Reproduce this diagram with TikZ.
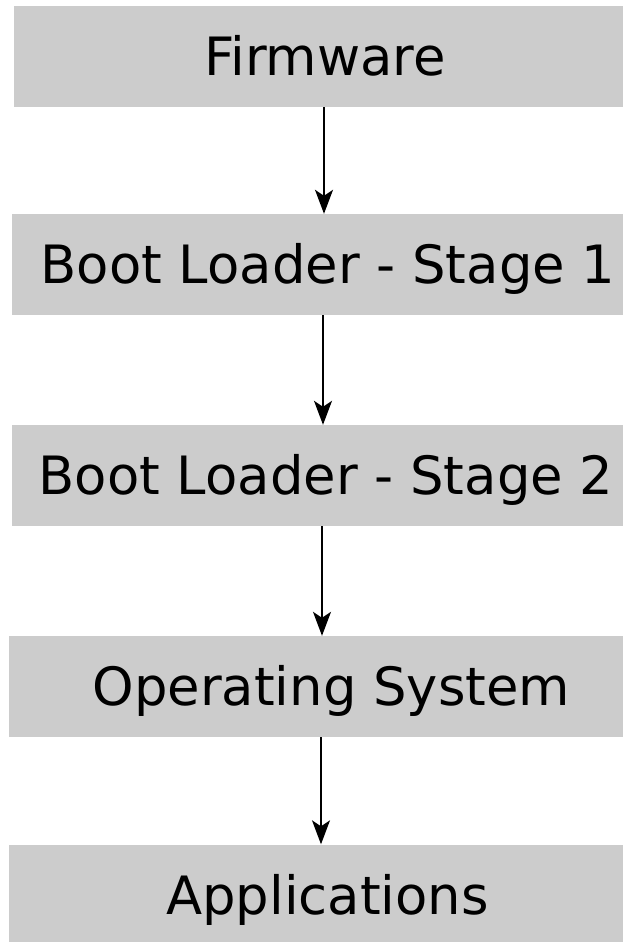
\documentclass[tikz,border=0pt]{standalone}
\usepackage{fontspec}
\setmainfont{DejaVu Sans}
\usepackage{tikz}
\usetikzlibrary{arrows.meta}
\usetikzlibrary{positioning}

\begin{document}
\begin{tikzpicture}[
      x=1pt, y=-1pt,
      >={Stealth[length=24pt, width=18pt, inset=6pt]},
      blk/.style={fill=black!20, draw=none, inner sep=0pt,
        minimum height=101pt, text height=38.5pt, text depth=0pt,
        font=\fontsize{52.8}{63}\selectfont},
      flow/.style={->, line width=1.6pt}
    ]
    \useasboundingbox (0,0) rectangle (622,942);

    % Blocchi
    \node[blk, minimum width=622pt] (fw)  at (325,56.5)   {Firmware};
    \node[blk, minimum width=632pt] (s1)  at (328,264.5)  {Boot Loader - Stage 1};
    \node[blk, minimum width=628pt] (s2)  at (326,475.5)  {Boot Loader - Stage 2};
    \node[blk, minimum width=645pt] (os)  at (331.5,686.5) {Operating System};
    \node[blk, minimum width=637pt] (app) at (327.5,895)  {Applications};

    % Frecce
    \coordinate (a1) at (324,0);
    \coordinate (a2) at (323,0);
    \coordinate (a3) at (322,0);
    \coordinate (a4) at (321,0);
    \draw[flow] (fw.south -| a1) -- (s1.north -| a1);
    \draw[flow] (s1.south -| a2) -- (s2.north -| a2);
    \draw[flow] (s2.south -| a3) -- (os.north -| a3);
    \draw[flow] (os.south -| a4) -- (app.north -| a4);
  \end{tikzpicture}
\end{document}
